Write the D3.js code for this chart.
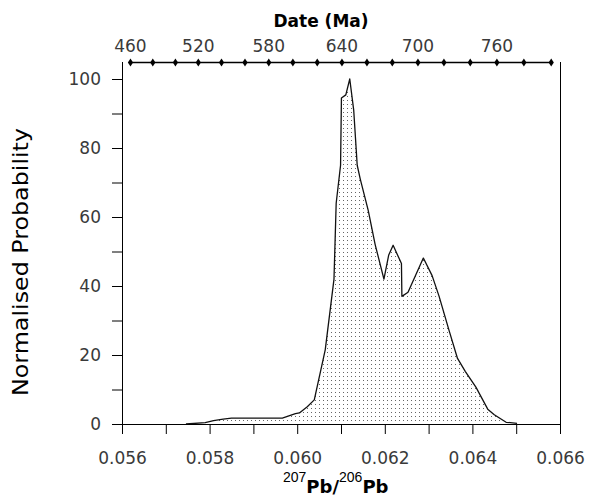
<!DOCTYPE html>
<html>
<head>
<meta charset="utf-8">
<script src="https://cdn.jsdelivr.net/npm/d3@7/dist/d3.min.js"></script>
<style>
body { margin: 0; background: #fff; }
.tick text { font-family: "DejaVu Sans", sans-serif; font-size: 17px; fill: #3a3a3a; }
</style>
</head>
<body>
<div id="chart-area"></div>
<script>
// 207Pb/206Pb ratio and normalised probability
var ratio = [0.05746, 0.05790, 0.05809, 0.05831, 0.05850, 0.05966, 0.05996, 0.06005,
             0.06023, 0.06039, 0.06064, 0.06084, 0.06089, 0.06099, 0.06101, 0.06111,
             0.06120, 0.06129, 0.06137, 0.06144, 0.06162, 0.06178, 0.06198, 0.06209,
             0.06219, 0.06238, 0.06239, 0.06253, 0.06288, 0.06308, 0.06324, 0.06347,
             0.06366, 0.06384, 0.06408, 0.06435, 0.06450, 0.06477, 0.06502];
var prob  = [0, 0.4, 1.0, 1.4, 1.7, 1.7, 3.0, 3.2,
             5.0, 7.0, 21.5, 42, 64, 75, 94.5, 95.4,
             100, 91, 75, 71, 62, 52, 42, 49,
             51.8, 46.5, 37, 38.2, 48.1, 43, 37, 27,
             19, 15.2, 10.7, 4.3, 2.7, 0.5, 0.2];

var xTicks = [0.056, 0.057, 0.058, 0.059, 0.060, 0.061, 0.062, 0.063, 0.064, 0.065, 0.066];
var yTicks = [0, 10, 20, 30, 40, 50, 60, 70, 80, 90, 100];
var dateTicks = [460, 480, 500, 520, 540, 560, 580, 600, 620, 640, 660, 680, 700, 720, 740, 760, 780, 800];
var dateLabels = [460, 520, 580, 640, 700, 760];

var margins = { left: 122, right: 40, top: 79, bottom: 72 };
var width = 600 - margins.left - margins.right;   // 438
var height = 496 - margins.top - margins.bottom;  // 345

// Pb/Pb age -> 207Pb/206Pb ratio
function pbRatio(t) {
    var l238 = 1.55125e-10, l235 = 9.8485e-10, u = 137.88;
    return (Math.exp(l235 * t * 1e6) - 1) / (Math.exp(l238 * t * 1e6) - 1) / u;
}

var svg = d3.select("#chart-area")
    .append("svg")
    .attr("width", 600)
    .attr("height", 496);

var defs = svg.append("defs");
var pat = defs.append("pattern")
    .attr("id", "dots")
    .attr("patternUnits", "userSpaceOnUse")
    .attr("width", 4)
    .attr("height", 4);
pat.append("rect").attr("width", 4).attr("height", 4).attr("fill", "#fff");
pat.append("rect").attr("x", 1).attr("y", 1).attr("width", 1).attr("height", 1).attr("fill", "#666");

var g = svg.append("g")
    .attr("transform", "translate(" + margins.left + "," + margins.top + ")");

var x = d3.scaleLinear().domain([0.056, 0.066]).range([0, width]);
var y = d3.scaleLinear().domain([0, 100]).range([height, 0]);

var data = ratio.map(function(r, i) { return { r: r, p: prob[i] }; });

// filled curve
var area = d3.area()
    .x(function(d) { return x(d.r); })
    .y0(y(0))
    .y1(function(d) { return y(d.p); });

g.append("path")
    .datum(data)
    .attr("d", area)
    .attr("fill", "url(#dots)");

var line = d3.line()
    .x(function(d) { return x(d.r); })
    .y(function(d) { return y(d.p); });

g.append("path")
    .datum(data)
    .attr("d", line)
    .attr("fill", "none")
    .attr("stroke", "#111")
    .attr("stroke-width", 1.3)
    .attr("stroke-linejoin", "round");

// bottom axis
var xAxisCall = d3.axisBottom(x)
    .tickValues(xTicks)
    .tickSize(10)
    .tickSizeOuter(0)
    .tickPadding(18)
    .tickFormat(function(d, i) { return i % 2 == 0 ? d3.format(".3f")(d) : ""; });

var xg = g.append("g")
    .attr("class", "x axis")
    .attr("transform", "translate(0," + height + ")")
    .call(xAxisCall);
xg.select(".domain").remove();
xg.selectAll("line").attr("stroke", "#000");

// left axis
var yAxisCall = d3.axisLeft(y)
    .tickValues(yTicks)
    .tickSize(10)
    .tickSizeOuter(0)
    .tickPadding(11)
    .tickFormat(function(d) { return d % 20 == 0 ? d : ""; });

var yg = g.append("g")
    .attr("class", "y axis")
    .call(yAxisCall);
yg.select(".domain").remove();
yg.selectAll("line").attr("stroke", "#000");

// frame lines
var topY = 62 - margins.top;
g.append("line")
    .attr("x1", 0.5).attr("x2", 0.5)
    .attr("y1", topY).attr("y2", height + 10)
    .attr("stroke", "#000");
g.append("line")
    .attr("x1", width + 0.5).attr("x2", width + 0.5)
    .attr("y1", topY).attr("y2", height + 10)
    .attr("stroke", "#000");
g.append("line")
    .attr("x1", 0).attr("x2", width + 1)
    .attr("y1", height + 0.5).attr("y2", height + 0.5)
    .attr("stroke", "#000");

// top date axis
var dg = g.append("g").attr("transform", "translate(0," + topY + ")");
dg.append("line")
    .attr("x1", x(pbRatio(dateTicks[0])))
    .attr("x2", x(pbRatio(dateTicks[dateTicks.length - 1])))
    .attr("y1", 0.5).attr("y2", 0.5)
    .attr("stroke", "#000")
    .attr("stroke-width", 1.5);

dg.selectAll("path.marker")
    .data(dateTicks)
    .enter()
    .append("path")
    .attr("class", "marker")
    .attr("transform", function(d) { return "translate(" + x(pbRatio(d)) + ",0.5)"; })
    .attr("d", "M0,-4L2.6,0L0,4L-2.6,0Z")
    .attr("fill", "#000");

dg.selectAll("text")
    .data(dateLabels)
    .enter()
    .append("text")
    .attr("x", function(d) { return x(pbRatio(d)); })
    .attr("y", -10)
    .attr("text-anchor", "middle")
    .attr("font-family", "DejaVu Sans, sans-serif")
    .attr("font-size", "17px")
    .attr("fill", "#3a3a3a")
    .text(function(d) { return d; });

// titles
svg.append("text")
    .attr("x", 321)
    .attr("y", 27)
    .attr("text-anchor", "middle")
    .attr("font-family", "DejaVu Sans, sans-serif")
    .attr("font-weight", "bold")
    .attr("font-size", "17px")
    .attr("fill", "#000")
    .text("Date (Ma)");

svg.append("text")
    .attr("transform", "translate(28,262) rotate(-90)")
    .attr("text-anchor", "middle")
    .attr("font-family", "DejaVu Sans, sans-serif")
    .attr("font-size", "22px")
    .attr("fill", "#000")
    .attr("textLength", 268)
    .attr("lengthAdjust", "spacingAndGlyphs")
    .text("Normalised Probability");

var xt = svg.append("text")
    .attr("x", 283)
    .attr("y", 493)
    .attr("text-anchor", "start")
    .attr("fill", "#000");
xt.append("tspan").attr("dy", -11).attr("font-family", "Liberation Sans, sans-serif").attr("font-size", "14px").text("207");
xt.append("tspan").attr("dy", 11).attr("font-family", "DejaVu Sans, sans-serif").attr("font-weight", "bold").attr("font-size", "18px").text("Pb/");
xt.append("tspan").attr("dy", -11).attr("font-family", "Liberation Sans, sans-serif").attr("font-size", "14px").text("206");
xt.append("tspan").attr("dy", 11).attr("font-family", "DejaVu Sans, sans-serif").attr("font-weight", "bold").attr("font-size", "18px").text("Pb");
</script>
</body>
</html>
